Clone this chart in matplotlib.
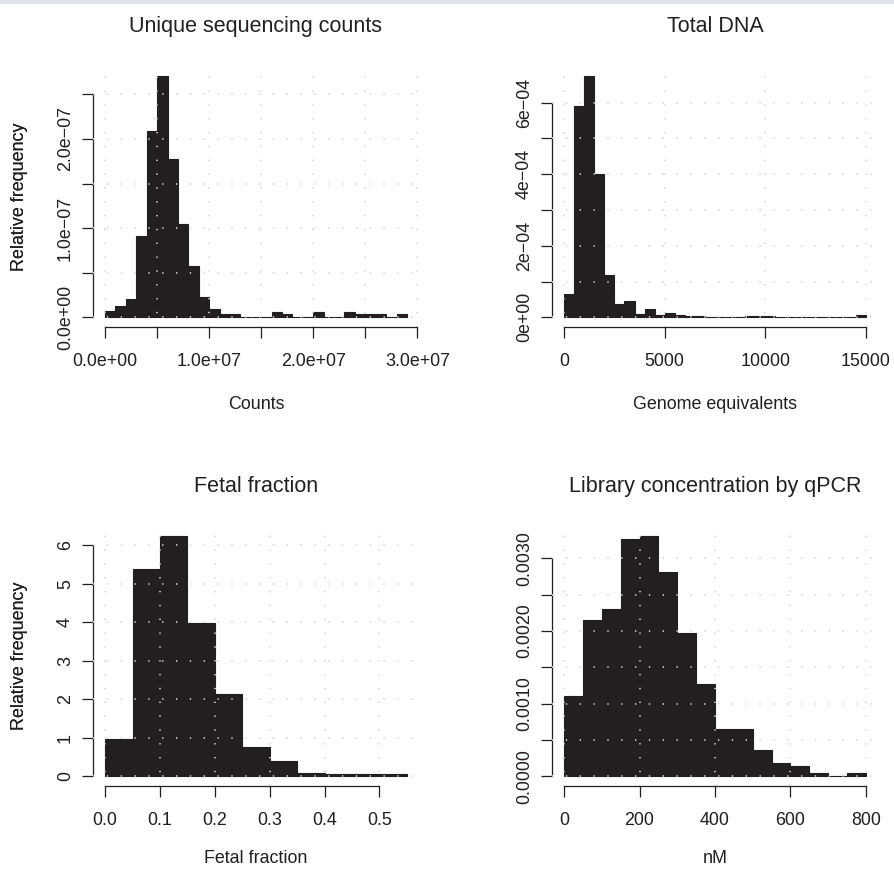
import matplotlib
matplotlib.use("Agg")
import matplotlib.pyplot as plt
from matplotlib.patches import Rectangle
import numpy as np

plt.rcParams["font.family"] = ["Liberation Sans", "DejaVu Sans"]

BAR = "#231f20"
GRID = "#d3d3d3"

# --- data (density per bin) ---
# unique sequencing counts, breaks every 1e6 from 0 to 2.9e7
counts_breaks = np.arange(0, 30) * 1e6
counts_dens = [7.5e-9, 1.3e-8, 2.0e-8, 9.1e-8, 2.09e-7, 2.71e-7, 1.78e-7, 1.05e-7,
               5.75e-8, 2.25e-8, 9.6e-9, 3.6e-9, 3.6e-9, 0, 0, 0, 5.6e-9, 3.6e-9,
               0, 0, 5.6e-9, 0, 0, 5.6e-9, 3.6e-9, 3.6e-9, 3.6e-9, 0, 3.6e-9]
counts_xticks = [0, 5e6, 1e7, 1.5e7, 2e7, 2.5e7, 3e7]
counts_xlabels = ["0.0e+00", "", "1.0e+07", "", "2.0e+07", "", "3.0e+07"]
counts_yticks = [0, 5e-8, 1e-7, 1.5e-7, 2e-7, 2.5e-7]
counts_ylabels = ["0.0e+00", "", "1.0e\u221207", "", "2.0e\u221207", ""]

# total DNA, breaks every 500 from 0 to 15000
dna_breaks = np.arange(0, 31) * 500
dna_dens = [0.65e-4, 5.9e-4, 6.75e-4, 4.0e-4, 1.19e-4, 0.38e-4, 0.47e-4, 0.09e-4,
            0.22e-4, 0.056e-4, 0.12e-4, 0.075e-4, 0.047e-4, 0.047e-4, 0, 0, 0, 0,
            0.047e-4, 0.047e-4, 0.047e-4, 0, 0, 0, 0, 0, 0, 0, 0, 0.056e-4]
dna_xticks = [0, 5000, 10000, 15000]
dna_xlabels = ["0", "5000", "10000", "15000"]
dna_yticks = [0, 1e-4, 2e-4, 3e-4, 4e-4, 5e-4, 6e-4]
dna_ylabels = ["0e+00", "", "2e\u221204", "", "4e\u221204", "", "6e\u221204"]

# fetal fraction
ff_breaks = [0, 0.05, 0.1, 0.15, 0.2, 0.25, 0.3, 0.35, 0.4, 0.45, 0.5, 0.55]
ff_dens = [0.98, 5.38, 6.25, 3.97, 2.13, 0.76, 0.40, 0.095, 0.05, 0.05, 0.05]
ff_xticks = [0, 0.1, 0.2, 0.3, 0.4, 0.5]
ff_xlabels = ["0.0", "0.1", "0.2", "0.3", "0.4", "0.5"]
ff_yticks = [0, 1, 2, 3, 4, 5, 6]
ff_ylabels = ["0", "1", "2", "3", "4", "5", "6"]

# library concentration by qPCR (nM)
nm_breaks = [0, 50, 100, 150, 200, 250, 300, 350, 400, 450, 500, 550, 600, 650, 700, 750, 800]
nm_dens = [0.001105, 0.002146, 0.002306, 0.003265, 0.00331, 0.002808, 0.001973, 0.001269,
           0.000648, 0.000648, 0.000365, 0.000185, 0.00014, 0.000048, 0, 0.000048]
nm_xticks = [0, 200, 400, 600, 800]
nm_xlabels = ["0", "200", "400", "600", "800"]
nm_yticks = [0, 0.0005, 0.001, 0.0015, 0.002, 0.0025, 0.003]
nm_ylabels = ["0.0000", "", "0.0010", "", "0.0020", "", "0.0030"]

panels = [
    ("Unique sequencing counts", "Counts", counts_breaks, counts_dens,
     counts_xticks, counts_xlabels, counts_yticks, counts_ylabels),
    ("Total DNA", "Genome equivalents", dna_breaks, dna_dens,
     dna_xticks, dna_xlabels, dna_yticks, dna_ylabels),
    ("Fetal fraction", "Fetal fraction", ff_breaks, ff_dens,
     ff_xticks, ff_xlabels, ff_yticks, ff_ylabels),
    ("Library concentration by qPCR", "nM", nm_breaks, nm_dens,
     nm_xticks, nm_xlabels, nm_yticks, nm_ylabels),
]

W, H = 895, 869
fig = plt.figure(figsize=(W / 100, H / 100), dpi=100)
fig.patches.append(Rectangle((0, 1 - 3 / H), 1, 3 / H, transform=fig.transFigure,
                             color="#dde3e9", zorder=0))

# plot regions in pixels: (left, top, right, bottom), plus x label offset
boxes = [(93, 66, 419, 327, 69), (552, 66, 878, 327, 69),
         (93, 526, 419, 786, 64), (552, 526, 878, 786, 64)]

for (title, xlab, br, dens, xt, xl, yt, yl), (l, t, r, b, xoff) in zip(panels, boxes):
    ax = fig.add_axes([l / W, 1 - b / H, (r - l) / W, (b - t) / H])
    br = np.asarray(br, dtype=float)
    ax.bar(br[:-1], dens, width=np.diff(br), align="edge", color=BAR,
           edgecolor=BAR, linewidth=0.8, zorder=2)

    span = br[-1] - br[0]
    ax.set_xlim(br[0] - 0.04 * span, br[-1] + 0.04 * span)
    top = max(dens)
    ax.set_ylim(-0.04 * top, top * 1.04)

    for v in xt:
        ax.axvline(v, color=GRID, lw=1.2, ls=(0, (0.8, 7.5)), zorder=3)
    for v in yt:
        ax.axhline(v, color=GRID, lw=1.2, ls=(0, (0.8, 7.5)), zorder=3)

    for s in ("top", "right"):
        ax.spines[s].set_visible(False)
    ax.spines["bottom"].set_bounds(xt[0], xt[-1])
    ax.spines["left"].set_bounds(yt[0], yt[-1])
    for s in ("bottom", "left"):
        ax.spines[s].set_linewidth(0.9)
        ax.spines[s].set_color(BAR)

    ax.set_xticks(xt)
    ax.set_xticklabels(xl)
    ax.set_yticks(yt)
    ax.set_yticklabels(yl, rotation=90, va="center")
    ax.tick_params(axis="both", direction="out", length=7.9, width=0.9,
                   color=BAR, labelcolor=BAR, labelsize=12.9)
    ax.tick_params(axis="x", pad=11.0)
    ax.tick_params(axis="y", pad=5.8)

    ax.set_title(title, fontsize=15.5, color=BAR, pad=24.5)
    ax.set_xlabel(xlab, fontsize=12.9, color=BAR)
    ax.xaxis.set_label_coords(0.5, -xoff / (b - t))
    ax.set_ylabel("Relative frequency", fontsize=12.9, color=BAR)
    ax.yaxis.set_label_coords(-(l - 28.3) / (r - l), 0.5)

fig.savefig("out.png", dpi=100)
